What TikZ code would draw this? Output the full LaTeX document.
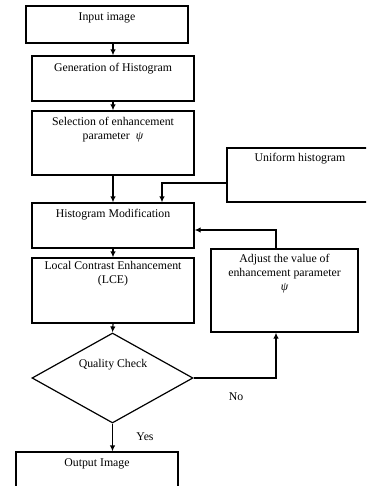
\documentclass[tikz,border=0pt]{standalone}
\usepackage{fontspec}
\setmainfont{Liberation Serif}
\usetikzlibrary{arrows.meta,shapes.geometric}
\begin{document}
\begin{tikzpicture}[x=1pt,y=-1pt,
  box/.style={draw, line width=1.2pt, inner sep=0pt, rectangle},
  txt/.style={font=\fontsize{11.8}{13.8}\selectfont, align=center, inner sep=0pt},
  arr/.style={line width=1.2pt, -{Latex[length=6pt,width=5.5pt]}}]
\clip (0,0) rectangle (366,486);
\fill[white] (0,0) rectangle (366,486);
% boxes
\node[box, minimum width=162pt, minimum height=37pt] (inp) at (107,24.5) {};
\node[txt] (inpt) at (107,18) {Input image};
\node[box, minimum width=162pt, minimum height=45pt] (gen) at (113,78.5) {};
\node[txt] (gent) at (113,69) {Generation of Histogram};
\node[box, minimum width=162pt, minimum height=64pt] (sel) at (113,143) {};
\node[txt] (selt) at (113,130) {Selection of enhancement\\parameter \ \textit{ψ}};
\node[box, minimum width=153pt, minimum height=54pt] (uni) at (303.5,175) {};
\node[txt] (unit) at (300,159) {Uniform histogram};
\node[box, minimum width=162pt, minimum height=45pt] (hm) at (113,225.5) {};
\node[txt] (hmt) at (113,215) {Histogram Modification};
\node[box, minimum width=162pt, minimum height=65pt] (lce) at (113,290.5) {};
\node[txt] (lcet) at (113,274) {Local Contrast Enhancement\\(LCE)};
\node[box, minimum width=147pt, minimum height=83pt] (adj) at (284.5,290.5) {};
\node[txt] (adjt) at (284.5,273.5) {Adjust the value of\\enhancement parameter\\\textit{ψ}};
\node[draw, line width=1.2pt, diamond, inner sep=0pt, minimum width=161pt, minimum height=90pt] (dia) at (112.5,378) {};
\node[txt] (diat) at (113,365) {Quality Check};
\node[box, minimum width=162pt, minimum height=48pt] (out) at (97,476) {};
\node[txt] (outt) at (97,464) {Output Image};
\node[txt] (no) at (236,397) {No};
\node[txt] (yes) at (145,437) {Yes};
% connectors
\draw[arr] (gen.north |- inp.south) -- (gen.north);
\draw[arr] (gen.south) -- (sel.north);
\draw[arr] (sel.south) -- (hm.north);
\draw[arr] ([yshift=-8pt]uni.west) -| ([xshift=49pt]hm.north);
\draw[arr] ([xshift=-8.5pt]adj.north) |- ([yshift=-4.5pt]hm.east);
\draw[arr] (hm.south) -- (lce.north);
\draw[arr] (lce.south) -- (dia.north);
\draw[arr] (dia.east) -| ([xshift=-8.5pt]adj.south);
\draw[arr] (dia.south) -- (dia.south |- out.north);
\end{tikzpicture}
\end{document}
